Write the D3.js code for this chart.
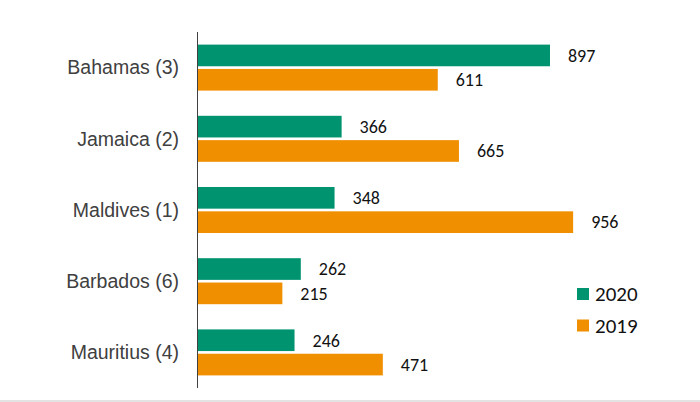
<!DOCTYPE html>
<html>
<head>
<meta charset="utf-8">
<script src="https://cdn.jsdelivr.net/npm/d3@7"></script>
<style>
  body { margin: 0; background: #fff; }
  .cat { font-family: "Liberation Sans", Arial, sans-serif; font-size: 19.5px; fill: #404040; }
  .val { font-family: Carlito, Calibri, Lato, sans-serif; font-size: 18px; fill: #111; }
  .leg { font-family: Carlito, Calibri, Lato, sans-serif; font-size: 21px; fill: #111; }
</style>
</head>
<body>
<svg id="chart" width="700" height="402"></svg>
<script>
var categories = ["Bahamas (3)", "Jamaica (2)", "Maldives (1)", "Barbados (6)", "Mauritius (4)"];
var values2020 = [897, 366, 348, 262, 246];
var values2019 = [611, 665, 956, 215, 471];
var seriesNames = ["2020", "2019"];
var colors = ["#00936f", "#f08f00"];

var svg = d3.select("#chart"),
    width = +svg.attr("width"),
    height = +svg.attr("height");

// light rule along the bottom edge
svg.append("line")
    .attr("x1", 0).attr("x2", width)
    .attr("y1", height - 1).attr("y2", height - 1)
    .attr("stroke", "#e3e3e3")
    .attr("stroke-width", 2);

var x = d3.scaleLinear()
    .domain([0, 1000])
    .range([198, 590.4]);

var y = d3.scaleBand()
    .domain(categories)
    .range([32, 388]);

var yInner = d3.scaleBand()
    .domain(seriesNames)
    .range([-23, 23])
    .paddingInner(0.11);

var rows = categories.map(function(c, i) {
  return {cat: c, vals: [values2020[i], values2019[i]]};
});

var groups = svg.selectAll("g.row")
  .data(rows)
  .enter().append("g")
    .attr("class", "row")
    .attr("transform", function(d) { return "translate(0," + (y(d.cat) + y.bandwidth() / 2) + ")"; });

groups.append("text")
    .attr("class", "cat")
    .attr("x", 179)
    .attr("y", 0)
    .attr("dy", "0.35em")
    .attr("text-anchor", "end")
    .text(function(d) { return d.cat; });

groups.selectAll("rect")
  .data(function(d) { return d.vals.map(function(v, j) { return {s: seriesNames[j], v: v, j: j}; }); })
  .enter().append("rect")
    .attr("x", x(0))
    .attr("y", function(d) { return yInner(d.s); })
    .attr("width", function(d) { return x(d.v) - x(0); })
    .attr("height", yInner.bandwidth())
    .attr("fill", function(d) { return colors[d.j]; });

groups.selectAll("text.val")
  .data(function(d) { return d.vals.map(function(v, j) { return {s: seriesNames[j], v: v}; }); })
  .enter().append("text")
    .attr("class", "val")
    .attr("x", function(d) { return x(d.v) + 18; })
    .attr("y", function(d) { return yInner(d.s) + yInner.bandwidth() / 2; })
    .attr("dy", "0.35em")
    .text(function(d) { return d.v; });

// axis line
svg.append("line")
    .attr("x1", x(0) - 0.5).attr("x2", x(0) - 0.5)
    .attr("y1", 32).attr("y2", 388)
    .attr("stroke", "#404040")
    .attr("stroke-width", 1);

// legend
var legend = svg.selectAll("g.leg")
  .data(seriesNames)
  .enter().append("g")
    .attr("transform", function(d, i) { return "translate(577," + (288 + i * 31.5) + ")"; });

legend.append("rect")
    .attr("width", 12).attr("height", 12)
    .attr("fill", function(d, i) { return colors[i]; });

legend.append("text")
    .attr("class", "leg")
    .attr("x", 18)
    .attr("y", 6)
    .attr("dy", "0.35em")
    .text(function(d) { return d; });
</script>
</body>
</html>
